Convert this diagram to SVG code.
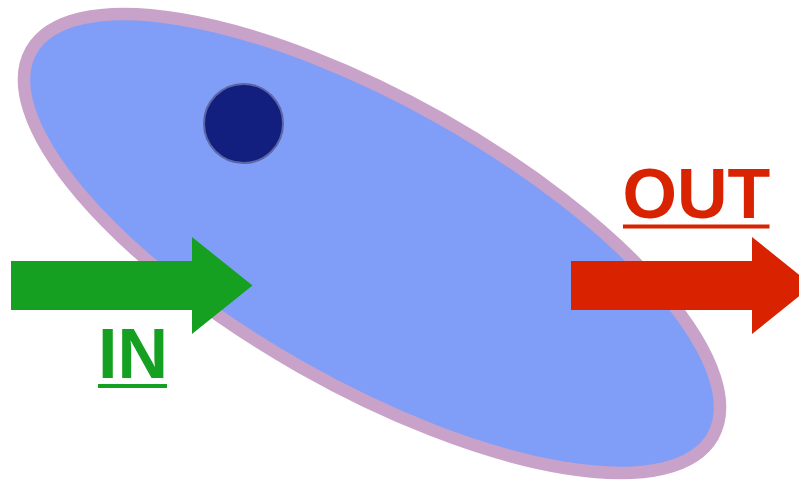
<svg xmlns="http://www.w3.org/2000/svg" width="799" height="481" viewBox="0 0 799 481">
<style>
.lbl{font-family:"Liberation Sans",Arial,sans-serif;font-weight:bold;font-size:70px;}
</style>
<rect width="799" height="481" fill="#ffffff"/>
<g id="cell">
<ellipse cx="372" cy="243.5" rx="391.6" ry="142.8" transform="rotate(29.5 372 243.5)" fill="#809ef8" stroke="#c8a2c8" stroke-width="12.5"/>
</g>
<g id="nucleus">
<circle cx="243.5" cy="123.5" r="39.5" fill="#131f7f" stroke="#5a66a6" stroke-width="2"/>
</g>
<g id="connectors">
<polygon id="in-arrow" points="11,261 192,261 192,237 252.5,285.5 192,334 192,310 11,310" fill="#16a021"/>
<polygon id="out-arrow" points="571,261 752,261 752,237 812.5,285.5 752,334 752,310 571,310" fill="#d82200"/>
</g>
<g id="label-in">
<text class="lbl" x="98" y="378" fill="#16a021">IN</text>
<rect x="98" y="384" width="69" height="4" fill="#16a021"/>
</g>
<g id="label-out">
<text class="lbl" x="622.5" y="218" fill="#d82200">OUT</text>
<rect x="623" y="224.5" width="146.5" height="4" fill="#d82200"/>
</g>
</svg>
